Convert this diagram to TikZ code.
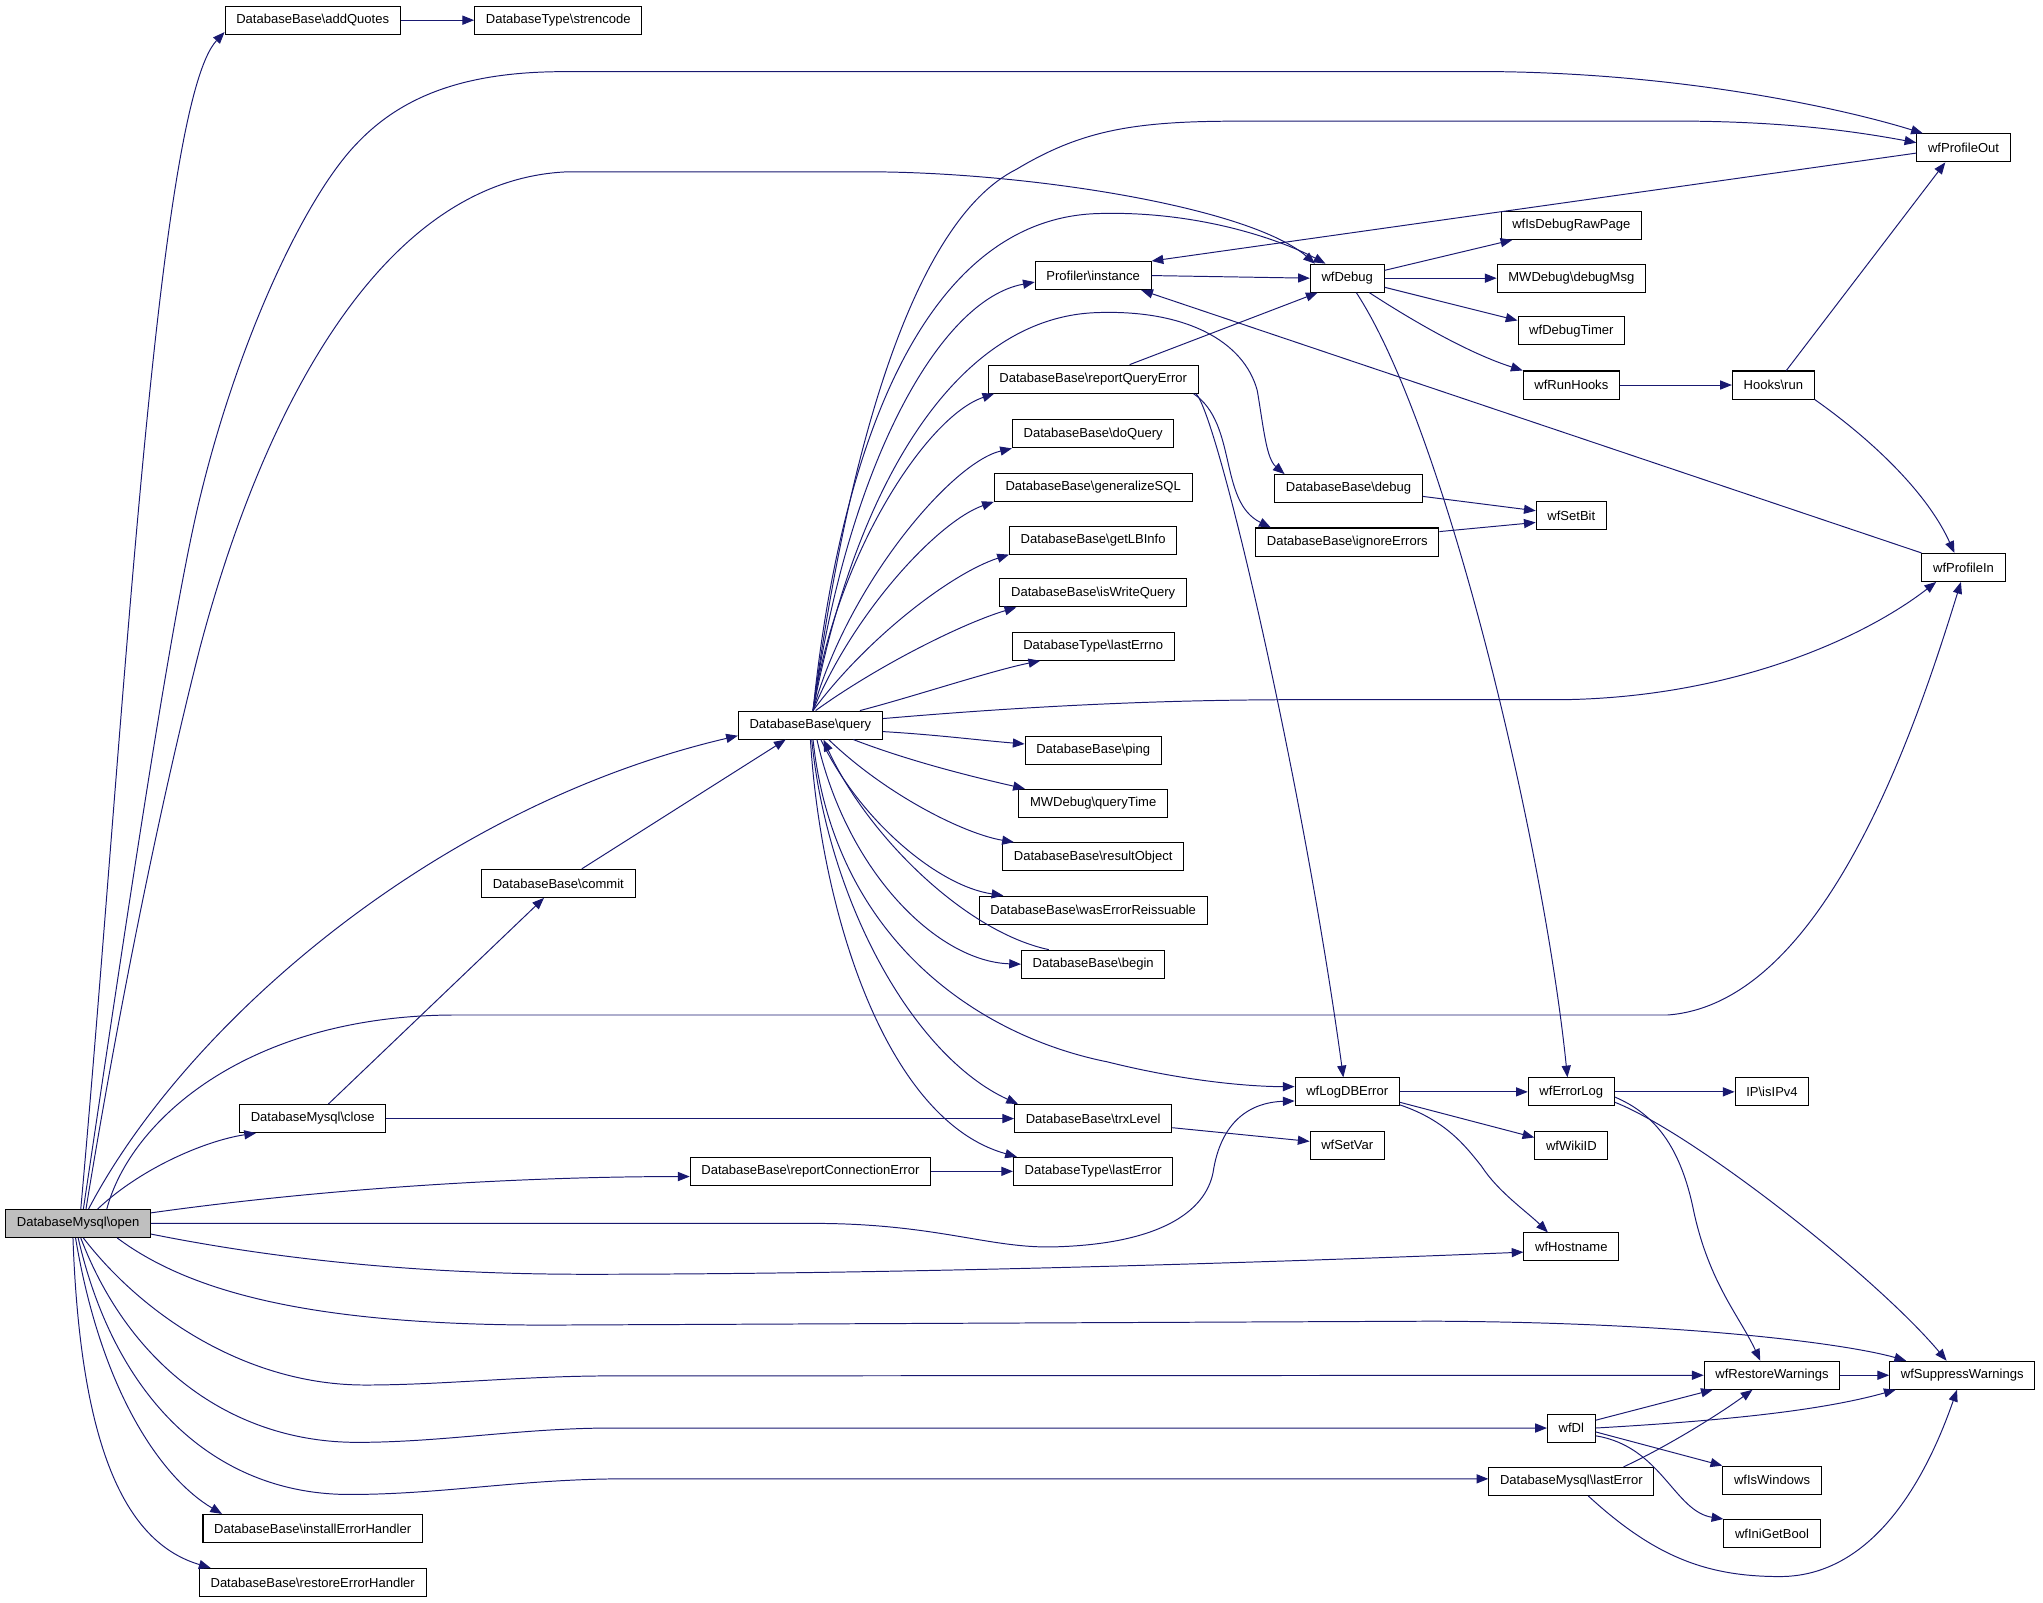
\documentclass[tikz,border=0pt]{standalone}
\usepackage{fontspec}
\setmainfont{Liberation Sans}
\usetikzlibrary{arrows.meta}
\definecolor{edgeblue}{HTML}{191970}
\definecolor{rootgray}{HTML}{BFBFBF}
\newcommand{\bkslash}{\textbackslash}

\begin{document}
\begin{tikzpicture}[x=1pt,y=-1pt,
  fn/.style={draw=black,line width=0.8pt,fill=white,inner xsep=8.6pt,inner ysep=0pt,minimum height=21.5pt,font=\fontsize{10}{12}\selectfont},
  root/.style={fn,fill=rootgray},
  call/.style={draw=edgeblue,line width=0.75pt,-{Triangle[length=9pt,width=7pt]}}]
  \useasboundingbox (0,0) rectangle (1568,1230);
  % functions
  \node[root] (op) at (60,939) {DatabaseMysql\bkslash open};
  \node[fn] (aq) at (240,15.5) {DatabaseBase\bkslash addQuotes};
  \node[fn] (sc) at (428.5,15.5) {DatabaseType\bkslash strencode};
  \node[fn] (pout) at (1507,113.5) {wfProfileOut};
  \node[fn] (rawp) at (1206,173) {wfIsDebugRawPage};
  \node[fn] (inst) at (839,211.5) {Profiler\bkslash instance};
  \node[fn] (dbg) at (1034,213.5) {wfDebug};
  \node[fn] (dmsg) at (1206,213.5) {MWDebug\bkslash debugMsg};
  \node[fn] (dtim) at (1206,254) {wfDebugTimer};
  \node[fn] (rqe) at (839,291) {DatabaseBase\bkslash reportQueryError};
  \node[fn] (rhk) at (1206,295.5) {wfRunHooks};
  \node[fn] (hrun) at (1361,295.5) {Hooks\bkslash run};
  \node[fn] (doq) at (839,333) {DatabaseBase\bkslash doQuery};
  \node[fn] (gsql) at (839,374) {DatabaseBase\bkslash generalizeSQL};
  \node[fn] (bdbg) at (1035,375) {DatabaseBase\bkslash debug};
  \node[fn] (sbit) at (1206,396) {wfSetBit};
  \node[fn] (lbi) at (839,414.5) {DatabaseBase\bkslash getLBInfo};
  \node[fn] (ign) at (1034,416) {DatabaseBase\bkslash ignoreErrors};
  \node[fn] (pin) at (1507,435.5) {wfProfileIn};
  \node[fn] (iwq) at (839,455) {DatabaseBase\bkslash isWriteQuery};
  \node[fn] (lerrno) at (839,496) {DatabaseType\bkslash lastErrno};
  \node[fn] (qry) at (622,556.5) {DatabaseBase\bkslash query};
  \node[fn] (ping) at (839,576) {DatabaseBase\bkslash ping};
  \node[fn] (qtime) at (839,616.5) {MWDebug\bkslash queryTime};
  \node[fn] (robj) at (839,657.5) {DatabaseBase\bkslash resultObject};
  \node[fn] (cmt) at (428.5,678) {DatabaseBase\bkslash commit};
  \node[fn] (wer) at (839,698.5) {DatabaseBase\bkslash wasErrorReissuable};
  \node[fn] (bgn) at (839,740) {DatabaseBase\bkslash begin};
  \node[fn] (ldb) at (1034,838) {wfLogDBError};
  \node[fn] (elog) at (1206,838) {wfErrorLog};
  \node[fn] (ipv4) at (1360,838) {IP\bkslash isIPv4};
  \node[fn] (cls) at (240,858.5) {DatabaseMysql\bkslash close};
  \node[fn] (trx) at (839,858.5) {DatabaseBase\bkslash trxLevel};
  \node[fn] (svar) at (1034,879) {wfSetVar};
  \node[fn] (wid) at (1206,879) {wfWikiID};
  \node[fn] (rce) at (622,899) {DatabaseBase\bkslash reportConnectionError};
  \node[fn] (lerr) at (839,899) {DatabaseType\bkslash lastError};
  \node[fn] (host) at (1206,957) {wfHostname};
  \node[fn] (rw) at (1360,1055.5) {wfRestoreWarnings};
  \node[fn] (sw) at (1506,1055.5) {wfSuppressWarnings};
  \node[fn] (dl) at (1206,1096) {wfDl};
  \node[fn] (mle) at (1206,1137) {DatabaseMysql\bkslash lastError};
  \node[fn] (win) at (1360,1136) {wfIsWindows};
  \node[fn] (ini) at (1360,1177) {wfIniGetBool};
  \node[fn] (ieh) at (240,1173.1) {DatabaseBase\bkslash installErrorHandler};
  \node[fn] (reh) at (240,1214.5) {DatabaseBase\bkslash restoreErrorHandler};
  % calls of open
  \draw[call] ([xshift=2pt]op.north) .. controls (95,560) and (120,80) .. ([yshift=2pt]aq.south west);
  \draw[call] ([xshift=4pt]op.north) .. controls (95,720) and (130,480) .. (153,384) .. controls (183,259) and (235,150) .. (274,110) .. controls (310,72) and (360,55) .. (433,55) -- (1150,55) .. controls (1300,57) and (1420,85) .. ([xshift=5pt]pout.north west);
  \draw[call] ([xshift=6pt]op.north) .. controls (100,720) and (135,570) .. (153,499) .. controls (200,320) and (290,140) .. (433,132) -- (680,132) .. controls (800,134) and (960,160) .. ([xshift=4pt]dbg.north west);
  \draw[call] ([xshift=8pt]op.north) .. controls (140,790) and (330,620) .. ([yshift=3pt]qry.south west);
  \draw[call] ([xshift=15pt]op.north) .. controls (110,895) and (160,875) .. ([xshift=13pt]cls.south west);
  \draw[call] ([xshift=22pt]op.north) .. controls (100,860) and (190,779) .. (350,779) -- (1280,779) .. controls (1400,770) and (1470,560) .. ([xshift=-2pt]pin.south);
  \draw[call] ([yshift=-3pt]op.north east) .. controls (250,912) and (400,903) .. ([yshift=-4pt]rce.west);
  \draw[call] (op.east) -- (632,939) .. controls (720,940) and (760,958) .. (808,957) .. controls (890,955) and (925,930) .. (931,900) .. controls (937,860) and (960,846) .. ([yshift=-7pt]ldb.west);
  \draw[call] ([yshift=3pt]op.south east) .. controls (220,968) and (330,978) .. (450,978) .. controls (700,978) and (1000,968) .. ([yshift=-4pt]host.west);
  \draw[call] ([xshift=30pt]op.south) .. controls (150,995) and (250,1017) .. (420,1017) -- (1100,1014) .. controls (1300,1015) and (1420,1032) .. ([xshift=13pt]sw.north west);
  \draw[call] ([xshift=4pt]op.south) .. controls (110,1010) and (190,1063) .. (280,1063) .. controls (340,1063) and (400,1056) .. (470,1056) -- (rw.west);
  \draw[call] ([xshift=2pt]op.south) .. controls (100,1050) and (180,1107) .. (274,1107) .. controls (340,1107) and (400,1096) .. (470,1096) -- (dl.west);
  \draw[call] (op.south) .. controls (90,1080) and (170,1147) .. (268,1147) .. controls (340,1147) and (400,1135) .. (480,1135) -- ([yshift=2pt]mle.west);
  \draw[call] ([xshift=-2pt]op.south) .. controls (78,1070) and (125,1135) .. ([xshift=15pt]ieh.north west);
  \draw[call] ([xshift=-4pt]op.south) .. controls (62,1120) and (100,1185) .. ([xshift=9pt]reh.north west);
  \draw[call] (aq.east) -- (sc.west);
  \draw[call] ([xshift=12pt]cls.north) -- ([xshift=-11pt]cmt.south);
  \draw[call] ([xshift=18pt]cmt.north) -- ([xshift=-19pt]qry.south);
  \draw[call] (cls.east) -- (trx.west);
  \draw[call] (rce.east) -- (lerr.west);
  % calls of query
  \draw[call] ([xshift=2pt]qry.north) .. controls (650,350) and (700,170) .. (780,130) .. controls (830,100) and (870,93) .. (950,93) -- (1300,93) .. controls (1380,94) and (1430,102) .. ([yshift=4pt]pout.west);
  \draw[call] ([xshift=2pt]qry.north) .. controls (645,340) and (710,170) .. (840,164) .. controls (920,161) and (985,185) .. ([xshift=12pt]dbg.north west);
  \draw[call] ([xshift=2pt]qry.north) .. controls (650,360) and (720,230) .. ([yshift=-5pt]inst.west);
  \draw[call] ([xshift=2pt]qry.north) .. controls (655,380) and (730,245) .. (840,240) .. controls (910,237) and (955,262) .. (965,300) .. controls (970,330) and (972,352) .. ([xshift=8pt]bdbg.north west);
  \draw[call] ([xshift=2pt]qry.north) .. controls (640,430) and (710,320) .. ([xshift=5pt]rqe.south west);
  \draw[call] ([xshift=2pt]qry.north) .. controls (650,450) and (730,355) .. (doq.south west);
  \draw[call] ([xshift=2pt]qry.north) .. controls (655,470) and (720,400) .. (gsql.south west);
  \draw[call] ([xshift=2pt]qry.north) .. controls (665,490) and (730,440) .. (lbi.south west);
  \draw[call] ([xshift=4pt]qry.north) .. controls (675,510) and (740,478) .. ([xshift=13pt]iwq.south west);
  \draw[call] ([xshift=38pt]qry.north) .. controls (700,535) and (760,515) .. ([xshift=22pt]lerrno.south west);
  \draw[call] ([yshift=5pt]qry.east) .. controls (800,541) and (900,537) .. (1000,537) -- (1200,537) .. controls (1330,535) and (1430,490) .. ([xshift=-21pt]pin.south);
  \draw[call] ([yshift=-5pt]qry.east) .. controls (720,564) and (750,568) .. ([yshift=5pt]ping.west);
  \draw[call] ([xshift=33pt]qry.south) .. controls (700,585) and (750,597) .. ([xshift=5pt]qtime.north west);
  \draw[call] ([xshift=14pt]qry.south) .. controls (680,610) and (740,640) .. ([xshift=9pt]robj.north west);
  \draw[call] ([xshift=8pt]qry.south) .. controls (660,630) and (720,680) .. ([xshift=19pt]wer.north west);
  \draw[call] ([xshift=5pt]qry.south) .. controls (650,670) and (720,738) .. (bgn.west);
  \draw[call] ([xshift=-34pt]bgn.north) .. controls (740,715) and (665,640) .. ([xshift=10pt]qry.south);
  \draw[call] ([xshift=2pt]qry.south) .. controls (640,720) and (750,795) .. (850,815) .. controls (910,830) and (960,834) .. ([yshift=4pt]ldb.west);
  \draw[call] ([xshift=1pt]qry.south) .. controls (635,690) and (700,810) .. ([xshift=3pt]trx.north west);
  \draw[call] (qry.south) .. controls (630,700) and (680,860) .. ([xshift=3pt]lerr.north west);
  % the rest
  \draw[call] (inst.east) -- (dbg.west);
  \draw[call] ([yshift=-4pt]pout.west) -- (inst.north east);
  \draw[call] (pin.north west) -- ([xshift=-8pt]inst.south east);
  \draw[call] ([yshift=6pt]dbg.east) -- ([xshift=9pt]rawp.south west);
  \draw[call] (dbg.east) -- (dmsg.west);
  \draw[call] ([yshift=-7pt]dbg.east) -- ([yshift=8pt]dtim.west);
  \draw[call] ([xshift=17pt]dbg.south) .. controls (1090,250) and (1130,272) .. (rhk.north west);
  \draw[call] ([xshift=7pt]dbg.south) .. controls (1110,330) and (1185,650) .. ([xshift=-3pt]elog.north);
  \draw[call] (rhk.east) -- (hrun.west);
  \draw[call] ([xshift=10pt]hrun.north) -- ([xshift=-14pt]pout.south);
  \draw[call] (hrun.south east) .. controls (1440,340) and (1480,380) .. ([xshift=-7pt]pin.north);
  \draw[call] ([xshift=28pt]rqe.north) -- ([xshift=6pt]dbg.south west);
  \draw[call] ([xshift=-4pt]rqe.south east) .. controls (950,325) and (935,385) .. ([xshift=12pt]ign.north west);
  \draw[call] ([xshift=-2pt]rqe.south east) .. controls (935,320) and (1000,600) .. ([xshift=-3pt]ldb.north);
  \draw[call] ([yshift=-6pt]bdbg.east) -- ([yshift=4pt]sbit.west);
  \draw[call] ([yshift=8pt]ign.east) -- ([yshift=-5pt]sbit.west);
  \draw[call] (ldb.east) -- (elog.west);
  \draw[call] (elog.east) -- (ipv4.west);
  \draw[call] ([yshift=-8pt]ldb.east) -- ([yshift=6pt]wid.west);
  \draw[call] ([yshift=-10pt]ldb.east) .. controls (1110,860) and (1125,880) .. (1137,895) .. controls (1150,915) and (1172,930) .. ([xshift=-18pt]host.north);
  \draw[call] ([yshift=-4pt]elog.east) .. controls (1270,855) and (1290,880) .. (1300,930) .. controls (1312,985) and (1335,1010) .. ([xshift=-9pt]rw.north);
  \draw[call] ([yshift=-8pt]elog.east) .. controls (1300,870) and (1440,980) .. ([xshift=-12pt]sw.north);
  \draw[call] ([yshift=-7pt]trx.east) -- ([yshift=3pt]svar.west);
  \draw[call] (rw.east) -- (sw.west);
  \draw[call] ([yshift=6pt]dl.east) -- ([xshift=7pt]rw.south west);
  \draw[call] (dl.east) .. controls (1330,1090) and (1400,1082) .. ([xshift=5pt]sw.south west);
  \draw[call] ([yshift=-3pt]dl.east) -- (win.north west);
  \draw[call] ([yshift=-6pt]dl.east) .. controls (1275,1110) and (1285,1160) .. (ini.north west);
  \draw[call] ([xshift=40pt]mle.north) .. controls (1280,1110) and (1320,1085) .. ([xshift=-15pt]rw.south);
  \draw[call] ([xshift=13pt]mle.south) .. controls (1270,1195) and (1310,1210) .. (1366,1210) .. controls (1440,1210) and (1480,1130) .. ([xshift=-4pt]sw.south);
\end{tikzpicture}
\end{document}
